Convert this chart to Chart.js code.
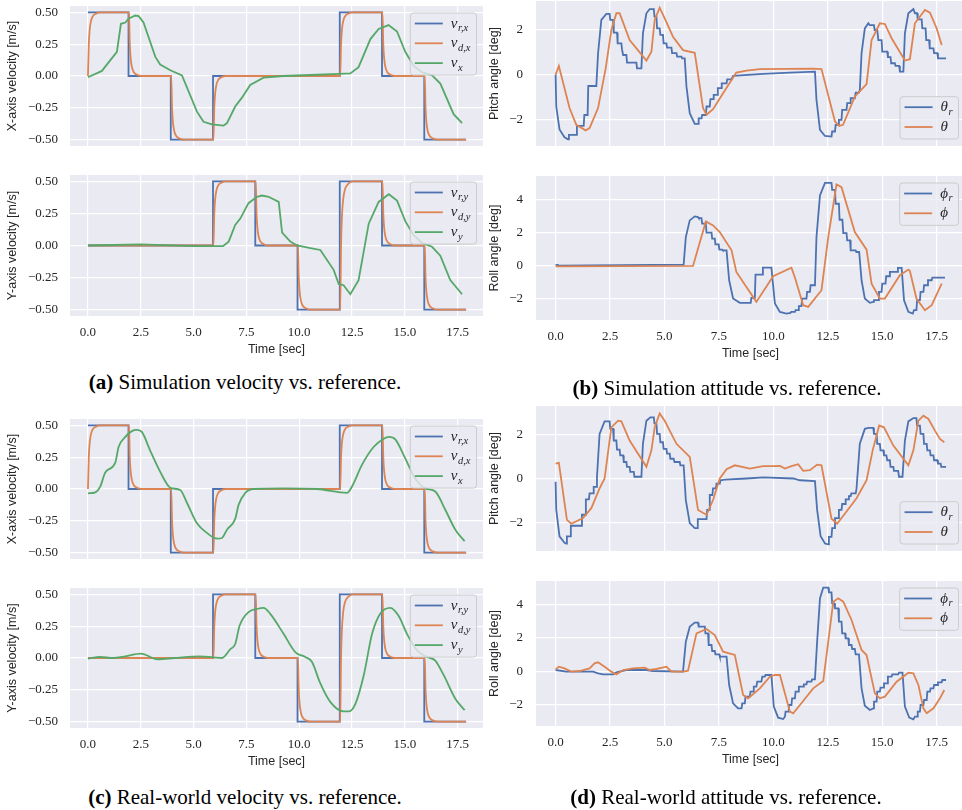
<!DOCTYPE html>
<html>
<head>
<meta charset="utf-8">
<script src="https://cdn.jsdelivr.net/npm/chart.js@4.4.1/dist/chart.umd.min.js"></script>
<style>
  html, body { margin: 0; padding: 0; background: #fff; overflow: hidden; }
  #page { position: relative; width: 962px; height: 810px; overflow: hidden; }
  canvas { position: absolute; }
  .cap { position: absolute; width: 440px; text-align: center; font-family: "Liberation Serif", "Times New Roman", serif; font-size: 21px; color: #000; line-height: 24px; white-space: nowrap; }
</style>
</head>
<body>
<div id="page">
  <canvas id="a1"></canvas>
  <canvas id="a2"></canvas>
  <canvas id="b1"></canvas>
  <canvas id="b2"></canvas>
  <canvas id="c1"></canvas>
  <canvas id="c2"></canvas>
  <canvas id="d1"></canvas>
  <canvas id="d2"></canvas>
  <div class="cap" style="left:25px; top:370px;"><b>(a)</b> Simulation velocity vs. reference.</div>
  <div class="cap" style="left:507px; top:376px;"><b>(b)</b> Simulation attitude vs. reference.</div>
  <div class="cap" style="left:25px; top:785px;"><b>(c)</b> Real-world velocity vs. reference.</div>
  <div class="cap" style="left:506px; top:785px;"><b>(d)</b> Real-world attitude vs. reference.</div>
</div>
<script>
// tick labels
const timeTicks = [0, 2.5, 5, 7.5, 10, 12.5, 15, 17.5];
const velTicks = [-0.5, -0.25, 0, 0.25, 0.5];
const pitchTicks = [-2, 0, 2];
const rollTicks = [-2, 0, 2, 4];

// reference velocity (step) and desired velocity, shared by sim and real runs  [t, v]
const refVx = [[0,0.5],[1.92,0.5],[1.92,0],[3.92,0],[3.92,-0.5],[5.92,-0.5],[5.92,0],[11.92,0],[11.92,0.5],[13.92,0.5],[13.92,0],[15.92,0],[15.92,-0.5],[17.9,-0.5]];
const desVx = [[0,0],[0.04,0.25],[0.08,0.36],[0.14,0.43],[0.23,0.47],[0.38,0.49],[0.58,0.5],
  [1.94,0.5],[1.98,0.25],[2.02,0.14],[2.08,0.07],[2.17,0.03],[2.32,0.01],[2.52,0],
  [3.94,0],[3.98,-0.25],[4.02,-0.36],[4.08,-0.43],[4.17,-0.47],[4.32,-0.49],[4.52,-0.5],
  [5.94,-0.5],[5.98,-0.25],[6.02,-0.14],[6.08,-0.07],[6.17,-0.03],[6.32,-0.01],[6.52,0],
  [11.94,0],[11.98,0.25],[12.02,0.36],[12.08,0.43],[12.17,0.47],[12.32,0.49],[12.52,0.5],
  [13.94,0.5],[13.98,0.25],[14.02,0.14],[14.08,0.07],[14.17,0.03],[14.32,0.01],[14.52,0],
  [15.94,0],[15.98,-0.25],[16.02,-0.36],[16.08,-0.43],[16.17,-0.47],[16.32,-0.49],[16.52,-0.5],[17.9,-0.5]];
const refVy = [[0,0],[5.92,0],[5.92,0.5],[7.92,0.5],[7.92,0],[9.92,0],[9.92,-0.5],[11.92,-0.5],[11.92,0.5],[13.92,0.5],[13.92,0],[15.92,0],[15.92,-0.5],[17.9,-0.5]];
const desVy = [[0,0],[5.94,0],[5.98,0.25],[6.02,0.36],[6.08,0.43],[6.17,0.47],[6.32,0.49],[6.52,0.5],
  [7.94,0.5],[7.98,0.25],[8.02,0.14],[8.08,0.07],[8.17,0.03],[8.32,0.01],[8.52,0],
  [9.94,0],[9.98,-0.25],[10.02,-0.36],[10.08,-0.43],[10.17,-0.47],[10.32,-0.49],[10.52,-0.5],
  [11.94,-0.5],[11.98,0],[12.02,0.22],[12.08,0.36],[12.17,0.44],[12.32,0.48],[12.52,0.5],
  [13.94,0.5],[13.98,0.25],[14.02,0.14],[14.08,0.07],[14.17,0.03],[14.32,0.01],[14.52,0],
  [15.94,0],[15.98,-0.25],[16.02,-0.36],[16.08,-0.43],[16.17,-0.47],[16.32,-0.49],[16.52,-0.5],[17.9,-0.5]];

// measured velocity
const simVx = [[0,-0.01],[0.66,0.04],[1.37,0.19],[1.56,0.41],[1.77,0.42],[1.92,0.45],[2.24,0.475],[2.4,0.47],[2.63,0.42],[3.19,0.15],[3.42,0.09],[3.9,0.045],[4.45,0.005],[5.16,-0.28],[5.47,-0.36],[5.87,-0.38],[6.42,-0.39],[6.58,-0.37],[6.97,-0.24],[7.29,-0.17],[7.68,-0.07],[8.31,-0.013],[9.26,0],[10.84,0.01],[11.87,0.016],[12.42,0.02],[12.81,0.07],[13.37,0.29],[13.76,0.37],[14.23,0.4],[14.63,0.35],[15.02,0.19],[15.42,0.08],[15.81,0.03],[16.29,0.005],[16.68,-0.06],[17.31,-0.3],[17.71,-0.37]];
const simVy = [[0,0],[2.5,0.008],[5,-0.005],[6.39,-0.005],[6.66,0.03],[6.97,0.16],[7.21,0.21],[7.6,0.33],[8.0,0.38],[8.24,0.39],[8.55,0.38],[9.03,0.34],[9.19,0.1],[9.58,0.03],[9.9,0],[10.53,-0.02],[11.0,-0.035],[11.63,-0.19],[11.87,-0.3],[12.1,-0.31],[12.42,-0.38],[12.81,-0.27],[13.29,0.17],[13.76,0.34],[14.24,0.4],[14.63,0.35],[15.02,0.19],[15.42,0.08],[15.81,0.02],[16.29,-0.01],[16.68,-0.08],[17.15,-0.27],[17.71,-0.38]];
const realVx = [[0,-0.034],[0.35,-0.026],[0.58,0.018],[0.82,0.13],[1.29,0.205],[1.45,0.33],[1.77,0.41],[2.08,0.455],[2.32,0.465],[2.56,0.447],[2.95,0.3],[3.42,0.135],[3.9,0.01],[4.37,-0.008],[4.69,-0.11],[5.16,-0.27],[5.63,-0.345],[6.11,-0.39],[6.34,-0.385],[6.58,-0.32],[6.97,-0.235],[7.13,-0.125],[7.45,-0.03],[7.84,0],[9.26,0.005],[10.84,0],[12.26,-0.03],[12.5,0.02],[12.97,0.19],[13.52,0.33],[14.0,0.395],[14.24,0.41],[14.55,0.39],[15.02,0.24],[15.5,0.08],[15.97,0.005],[16.44,-0.02],[16.92,-0.165],[17.39,-0.32],[17.83,-0.41]];
const realVy = [[0,-0.005],[0.58,0.008],[1.2,0],[1.77,0.013],[2.51,0.034],[3.3,-0.01],[4.1,0],[5.3,0.013],[5.94,0.005],[6.34,0],[6.74,0.07],[6.97,0.11],[7.18,0.255],[7.6,0.36],[8.0,0.385],[8.31,0.394],[8.63,0.347],[9.26,0.19],[9.81,0.047],[10.29,0.008],[10.6,-0.03],[11.0,-0.2],[11.47,-0.345],[12.1,-0.42],[12.34,-0.42],[12.66,-0.36],[13.05,-0.14],[13.45,0.19],[13.84,0.35],[14.31,0.394],[14.71,0.33],[15.1,0.19],[15.58,0.06],[16.05,0.008],[16.44,-0.02],[16.84,-0.135],[17.39,-0.32],[17.83,-0.41]];

// simulation attitude [t, deg]
const simPitchRef = [[0,0],[0.03,-1.43],[0.18,-2.46],[0.41,-2.81],[0.57,-2.9],[0.61,-2.7],[0.95,-2.7],[0.98,-2.3],[1.29,-2.3],[1.32,-1.81],[1.47,-1.81],[1.5,-0.51],[1.87,-0.51],[1.95,0.96],[2.1,2.45],[2.33,2.72],[2.48,2.72],[2.51,2.45],[2.64,2.45],[2.67,1.88],[2.82,1.88],[2.85,1.4],[3.02,1.4],[3.05,1.13],[3.1,0.88],[3.25,0.88],[3.28,0.54],[3.71,0.54],[3.74,0.28],[3.94,0.28],[4.01,1.85],[4.17,2.75],[4.32,2.94],[4.51,2.94],[4.54,2.6],[4.63,2.6],[4.66,2.07],[4.78,2.07],[4.81,1.78],[4.93,1.78],[4.96,1.4],[5.09,1.4],[5.12,1.21],[5.32,1.21],[5.35,0.96],[5.55,0.96],[5.58,0.81],[5.78,0.81],[5.81,0.73],[5.93,0.73],[6.01,-0.54],[6.16,-1.73],[6.39,-2.21],[6.54,-2.21],[6.57,-1.96],[6.7,-1.96],[6.73,-1.81],[6.9,-1.81],[6.93,-1.43],[7.08,-1.43],[7.11,-1.1],[7.23,-1.1],[7.26,-0.91],[7.42,-0.91],[7.45,-0.61],[7.6,-0.61],[7.63,-0.39],[7.85,-0.39],[7.88,-0.21],[8.08,-0.21],[8.15,-0.06],[9.53,0.03],[10.76,0.09],[11.91,0.13],[11.98,-1.13],[12.14,-2.48],[12.37,-2.75],[12.67,-2.78],[12.7,-2.55],[12.83,-2.55],[12.86,-2.25],[12.98,-2.25],[13.01,-2.03],[13.13,-2.03],[13.16,-1.58],[13.36,-1.58],[13.39,-1.28],[13.52,-1.28],[13.55,-1.06],[13.74,-1.06],[13.78,-0.81],[13.93,-0.81],[13.97,-0.69],[14.05,0.96],[14.2,2.07],[14.36,2.3],[14.43,2.22],[14.62,2.22],[14.65,2.0],[14.77,2.0],[14.82,1.55],[14.97,1.55],[15.0,1.03],[15.23,1.03],[15.26,0.78],[15.38,0.78],[15.41,0.51],[15.58,0.51],[15.61,0.39],[15.78,0.39],[15.81,0.13],[15.97,0.13],[16.04,1.85],[16.2,2.75],[16.43,2.94],[16.5,2.75],[16.6,2.75],[16.63,2.48],[16.81,2.48],[16.84,2.07],[16.99,2.07],[17.02,1.55],[17.15,1.55],[17.18,1.18],[17.35,1.18],[17.38,0.96],[17.53,0.96],[17.56,0.73],[17.93,0.73]];
const simPitch = [[0,0],[0.15,0.39],[0.64,-1.5],[0.95,-2.25],[1.38,-2.5],[1.56,-2.4],[1.95,-1.5],[2.3,0.28],[2.56,2.0],[2.79,2.75],[2.94,2.75],[3.4,1.55],[3.78,1.1],[4.17,0.63],[4.4,1.03],[4.55,2.45],[4.78,3.0],[5.01,2.52],[5.39,1.7],[5.85,1.1],[6.39,0.98],[6.77,-1.5],[6.93,-1.8],[7.23,-1.55],[7.69,-0.84],[8.3,0.09],[8.77,0.18],[9.38,0.25],[11.83,0.27],[12.21,0.25],[12.83,-2.1],[13.02,-2.3],[13.2,-2.25],[13.74,-0.99],[14.28,-0.43],[14.51,1.55],[14.89,2.3],[15.12,2.27],[15.43,1.63],[16.04,0.63],[16.27,0.69],[16.5,2.3],[16.96,2.9],[17.19,2.78],[17.5,2.07],[17.73,1.33]];
const simRollRef = [[0,0.05],[0.11,0.05],[0.13,0],[5.88,0.06],[5.98,1.72],[6.16,2.72],[6.39,2.96],[6.54,2.92],[6.57,2.86],[6.7,2.86],[6.73,2.52],[6.9,2.52],[6.93,1.98],[7.16,1.98],[7.19,1.62],[7.31,1.62],[7.34,1.28],[7.49,1.28],[7.52,0.96],[7.65,0.96],[7.68,0.92],[7.85,0.92],[7.97,-0.88],[8.15,-1.98],[8.46,-2.24],[8.96,-2.24],[8.99,-1.94],[9.15,-1.94],[9.18,-0.54],[9.49,-0.54],[9.52,-0.12],[9.91,-0.12],[10.07,-2.28],[10.3,-2.78],[10.6,-2.88],[10.79,-2.84],[10.82,-2.78],[10.99,-2.78],[11.02,-2.68],[11.14,-2.68],[11.17,-2.44],[11.29,-2.44],[11.32,-1.98],[11.52,-1.98],[11.55,-1.58],[11.68,-1.58],[11.71,-1.18],[11.91,-1.18],[11.98,1.72],[12.14,4.22],[12.37,4.98],[12.67,4.98],[12.7,4.56],[12.83,4.56],[12.86,3.72],[13.01,3.72],[13.04,2.76],[13.17,2.76],[13.21,1.96],[13.36,1.96],[13.39,1.52],[13.52,1.52],[13.55,0.92],[13.78,0.92],[13.81,0.82],[13.94,0.82],[14.05,-0.88],[14.2,-1.98],[14.43,-2.24],[14.59,-2.18],[14.62,-2.08],[14.82,-2.08],[14.85,-1.58],[14.97,-1.58],[15.0,-1.08],[15.15,-1.08],[15.18,-0.64],[15.32,-0.64],[15.35,-0.38],[15.69,-0.38],[15.72,-0.14],[15.89,-0.14],[16.0,-2.08],[16.2,-2.78],[16.4,-2.88],[16.46,-2.68],[16.57,-2.68],[16.6,-2.08],[16.73,-2.08],[16.76,-1.58],[16.89,-1.58],[16.92,-1.18],[17.07,-1.18],[17.1,-0.88],[17.27,-0.88],[17.3,-0.72],[17.88,-0.72]];
const simRoll = [[0,-0.04],[6.31,-0.02],[6.9,2.66],[7.23,2.42],[7.54,2.02],[8.08,0.92],[8.3,-0.38],[9.22,-2.18],[9.99,-0.64],[10.83,-0.12],[10.99,-0.72],[11.37,-2.38],[11.6,-2.48],[12.21,-1.48],[12.52,1.72],[12.9,4.88],[13.13,4.72],[13.74,2.02],[14.28,0.96],[14.51,-1.08],[14.89,-1.98],[15.12,-1.98],[15.81,-0.58],[16.2,-0.24],[16.27,-0.32],[16.57,-1.98],[16.96,-2.68],[17.27,-2.38],[17.73,-1.08]];

// real-world attitude [t, deg]
const realPitchRef = [[0,-0.15],[0.03,-1.43],[0.18,-2.63],[0.41,-2.93],[0.49,-2.96],[0.52,-2.63],[0.67,-2.63],[0.7,-2.15],[1.18,-2.15],[1.21,-1.65],[1.36,-1.65],[1.39,-0.95],[1.53,-0.95],[1.56,-0.68],[1.72,-0.68],[1.75,-0.38],[1.87,-0.38],[1.9,0.08],[2.02,2.03],[2.25,2.6],[2.48,2.6],[2.51,2.26],[2.64,2.26],[2.67,1.73],[2.79,1.73],[2.82,1.31],[2.94,1.31],[2.97,1.05],[3.1,1.05],[3.13,0.75],[3.25,0.75],[3.28,0.53],[3.4,0.53],[3.43,0.3],[3.59,0.3],[3.62,0.08],[3.94,0.08],[4.01,1.58],[4.17,2.63],[4.35,2.78],[4.51,2.78],[4.54,2.51],[4.63,2.51],[4.66,2.03],[4.78,2.03],[4.81,1.65],[4.93,1.65],[4.96,1.35],[5.09,1.35],[5.12,1.13],[5.24,1.13],[5.27,0.9],[5.42,0.9],[5.46,0.75],[5.7,0.75],[5.73,0.6],[5.88,0.6],[5.98,-0.98],[6.16,-2.03],[6.39,-2.26],[6.5,-2.26],[6.53,-1.85],[6.93,-1.85],[6.96,-1.43],[7.05,-1.43],[7.08,-0.75],[7.2,-0.75],[7.23,-0.45],[7.36,-0.45],[7.39,-0.23],[7.54,-0.23],[7.57,-0.08],[7.77,-0.05],[8.77,0],[9.53,0.05],[10.91,0],[11.22,-0.08],[11.91,-0.12],[12.01,-1.43],[12.17,-2.63],[12.37,-2.96],[12.52,-3.0],[12.55,-2.66],[12.67,-2.66],[12.7,-2.26],[12.79,-2.26],[12.83,-1.8],[12.98,-1.8],[13.01,-1.43],[13.13,-1.43],[13.16,-1.16],[13.29,-1.16],[13.32,-0.95],[13.44,-0.95],[13.47,-0.8],[13.55,-0.8],[13.58,-0.68],[13.78,-0.68],[13.82,-0.45],[13.97,1.58],[14.2,2.26],[14.36,2.3],[14.59,2.3],[14.62,2.03],[14.74,2.03],[14.77,1.58],[14.89,1.58],[14.92,1.28],[15.05,1.28],[15.08,1.05],[15.19,1.05],[15.23,0.83],[15.35,0.83],[15.38,0.53],[15.51,0.53],[15.54,0.35],[15.73,0.35],[15.77,0.08],[15.93,0.08],[16.04,1.73],[16.2,2.6],[16.43,2.75],[16.57,2.75],[16.6,2.41],[16.73,2.41],[16.76,2.03],[16.89,2.03],[16.92,1.58],[17.04,1.58],[17.07,1.28],[17.19,1.28],[17.22,1.05],[17.35,1.05],[17.38,0.83],[17.53,0.83],[17.56,0.68],[17.68,0.68],[17.71,0.53],[17.93,0.53]];
const realPitch = [[0,0.68],[0.15,0.71],[0.52,-1.88],[0.72,-2.06],[1.26,-1.8],[1.64,-1.35],[2.02,-0.45],[2.25,0],[2.56,2.33],[2.87,2.63],[3.02,2.6],[3.4,1.73],[4.17,0.53],[4.4,1.28],[4.55,2.33],[4.78,2.96],[5.01,2.63],[5.55,1.58],[6.16,0.98],[6.54,-1.43],[6.93,-1.65],[7.23,-0.98],[7.54,0],[7.85,0.42],[8.23,0.6],[8.92,0.45],[9.53,0.56],[9.99,0.56],[10.3,0.57],[10.53,0.45],[10.83,0.56],[11.14,0.65],[11.37,0.35],[11.68,0.38],[12.01,0.63],[12.21,0.6],[12.67,-1.83],[12.93,-2.06],[13.36,-1.5],[13.82,-0.9],[14.28,-0.08],[14.56,1.28],[14.86,2.41],[15.08,2.33],[15.51,1.5],[16.2,0.6],[16.43,1.28],[16.66,2.63],[16.89,2.86],[17.12,2.71],[17.42,2.18],[17.65,1.8],[17.85,1.65]];
const realRollRef = [[0,0.08],[0.49,-0.02],[1.72,-0.02],[1.95,-0.12],[2.18,-0.18],[2.64,-0.18],[2.79,-0.06],[3.25,0.08],[4.17,0.08],[4.47,0.02],[5.85,-0.02],[5.98,1.78],[6.16,2.68],[6.39,2.92],[6.54,2.92],[6.57,2.68],[6.85,2.68],[6.88,2.28],[7.0,2.28],[7.03,1.58],[7.16,1.58],[7.19,1.22],[7.31,1.22],[7.34,1.02],[7.51,1.02],[7.54,0.88],[7.85,0.88],[7.97,-0.82],[8.15,-1.92],[8.38,-2.22],[8.54,-2.22],[8.57,-1.92],[8.69,-1.92],[8.72,-1.52],[8.92,-1.52],[8.95,-1.22],[9.07,-1.22],[9.1,-0.92],[9.22,-0.92],[9.26,-0.62],[9.45,-0.62],[9.49,-0.32],[9.61,-0.32],[9.64,-0.22],[9.91,-0.22],[10.02,-2.12],[10.22,-2.78],[10.45,-2.86],[10.53,-2.72],[10.56,-2.42],[10.68,-2.42],[10.71,-2.02],[10.83,-2.02],[10.86,-1.62],[10.99,-1.62],[11.02,-1.22],[11.14,-1.22],[11.17,-0.92],[11.37,-0.92],[11.4,-0.78],[11.52,-0.78],[11.55,-0.62],[11.75,-0.62],[11.78,-0.48],[11.91,-0.48],[12.01,1.78],[12.14,4.38],[12.29,5.02],[12.52,5.02],[12.55,4.74],[12.67,4.74],[12.7,4.08],[12.79,4.08],[12.83,3.78],[12.98,3.78],[13.01,2.98],[13.13,2.98],[13.16,2.28],[13.29,2.28],[13.32,1.98],[13.44,1.98],[13.47,1.58],[13.59,1.58],[13.62,1.34],[13.74,1.34],[13.78,1.02],[13.93,1.02],[14.05,-1.02],[14.2,-2.06],[14.43,-2.32],[14.59,-2.22],[14.62,-1.82],[14.74,-1.82],[14.77,-1.22],[14.89,-1.22],[14.92,-0.98],[15.05,-0.98],[15.08,-0.72],[15.23,-0.72],[15.26,-0.32],[15.43,-0.32],[15.46,-0.18],[15.73,-0.18],[15.77,-0.08],[15.93,-0.08],[16.04,-2.12],[16.24,-2.78],[16.43,-2.88],[16.5,-2.72],[16.6,-2.72],[16.63,-2.42],[16.73,-2.42],[16.76,-2.02],[16.89,-2.02],[16.92,-1.72],[17.04,-1.72],[17.07,-1.22],[17.19,-1.22],[17.22,-1.02],[17.35,-1.02],[17.38,-0.82],[17.53,-0.82],[17.56,-0.66],[17.73,-0.66],[17.76,-0.52],[17.93,-0.52]];
const realRoll = [[0,0.12],[0.15,0.28],[0.41,0.18],[0.72,-0.02],[1.1,0.02],[1.56,0.18],[1.79,0.48],[1.95,0.54],[2.25,0.28],[2.56,-0.02],[2.79,-0.18],[3.1,0.08],[3.55,0.18],[4.09,0.22],[4.32,0.08],[4.63,0.14],[5.09,0.28],[5.32,-0.02],[5.85,-0.02],[6.08,0.04],[6.47,2.28],[6.93,2.54],[7.31,2.18],[7.69,1.18],[8.23,0.98],[8.61,-1.42],[8.84,-1.62],[9.38,-1.02],[9.84,-0.32],[10.07,-0.22],[10.3,-0.22],[10.76,-2.42],[10.91,-2.52],[11.22,-2.02],[11.83,-1.02],[12.29,-0.58],[12.52,1.78],[12.75,4.18],[12.98,4.38],[13.21,4.18],[13.59,3.08],[14.05,1.28],[14.28,0.98],[14.66,-1.32],[14.89,-1.62],[15.12,-1.52],[15.66,-0.62],[16.2,-0.08],[16.43,-0.12],[16.66,-0.82],[16.89,-2.22],[17.04,-2.52],[17.35,-2.22],[17.65,-1.62],[17.85,-1.12]];

const BLUE = '#4c72b0';
const ORANGE = '#dd8452';
const GREEN = '#55a868';
const TEXT = '#262626';
const SANS = '"Liberation Sans", Arial, sans-serif';
const SERIF = '"Liberation Serif", "DejaVu Serif", serif';

// plot background like seaborn darkgrid
const plotBg = {
  id: 'plotBg',
  beforeDraw(chart) {
    const { ctx, chartArea: a } = chart;
    ctx.save();
    ctx.fillStyle = '#eaeaf2';
    ctx.fillRect(a.left, a.top, a.right - a.left, a.bottom - a.top);
    ctx.restore();
  }
};

// legend drawn inside the axes, with math style labels
const mathLegend = {
  id: 'mathLegend',
  afterDatasetsDraw(chart, args, opts) {
    if (!opts.labels) return;
    const { ctx, chartArea: a } = chart;
    const baseFont = 'italic 15px ' + SERIF;
    const subFont = 'italic 10.5px ' + SERIF;
    let textW = 0;
    opts.labels.forEach(l => {
      ctx.font = baseFont;
      let w = ctx.measureText(l[0]).width;
      if (l[1]) { ctx.font = subFont; w += 0.5 + ctx.measureText(l[1]).width; }
      textW = Math.max(textW, w);
    });
    const n = opts.labels.length;
    const w = 4.5 + 28 + 8 + textW + 6;
    const h = 10.5 + (n - 1) * 19.8 + 12;
    const x0 = a.right - 6.5 - w;
    const y0 = opts.pos === 'lr' ? a.bottom - 7 - h : a.top + 7;
    ctx.save();
    ctx.beginPath();
    if (ctx.roundRect) ctx.roundRect(x0, y0, w, h, 3); else ctx.rect(x0, y0, w, h);
    ctx.fillStyle = 'rgba(234,234,242,0.8)';
    ctx.fill();
    ctx.strokeStyle = '#cccccc';
    ctx.lineWidth = 1;
    ctx.stroke();
    opts.labels.forEach((l, i) => {
      const y = y0 + 10.5 + i * 19.8;
      ctx.strokeStyle = chart.data.datasets[i].borderColor;
      ctx.lineWidth = 1.8;
      ctx.beginPath();
      ctx.moveTo(x0 + 4.5, y);
      ctx.lineTo(x0 + 32.5, y);
      ctx.stroke();
      ctx.fillStyle = TEXT;
      ctx.textBaseline = 'alphabetic';
      ctx.textAlign = 'left';
      ctx.font = baseFont;
      const tx = x0 + 40.5;
      ctx.fillText(l[0], tx, y + 4);
      if (l[1]) {
        const bw = ctx.measureText(l[0]).width;
        ctx.font = subFont;
        ctx.fillText(l[1], tx + bw + 0.5, y + 7.5);
      }
    });
    ctx.restore();
  }
};

function fmtTick(dec) {
  return v => (v < 0 ? '\u2212' : '') + Math.abs(v).toFixed(dec);
}

function toXY(arr) {
  return arr.map(p => ({ x: p[0], y: p[1] }));
}

function makeChart(p) {
  const canvas = document.getElementById(p.id);
  const pad = Math.min(4, p.top);
  const xh = p.showX ? 44 : 4;
  const height = p.bottom - p.top + pad + xh;
  canvas.width = p.width;
  canvas.height = height;
  canvas.style.left = p.left + 'px';
  canvas.style.top = (p.top - pad) + 'px';
  canvas.style.width = p.width + 'px';
  canvas.style.height = height + 'px';

  const datasets = p.series.map((s, i) => ({
    data: toXY(s.data),
    borderColor: s.color,
    borderWidth: 1.8,
    pointRadius: 0,
    fill: false,
    order: p.series.length - i,
    cubicInterpolationMode: s.smooth ? 'monotone' : 'default',
    tension: 0
  }));

  return new Chart(canvas.getContext('2d'), {
    type: 'line',
    data: { datasets },
    options: {
      responsive: false,
      animation: false,
      events: [],
      layout: { padding: { top: pad, left: 0, right: 0, bottom: 0 } },
      plugins: {
        legend: { display: false },
        tooltip: { enabled: false },
        mathLegend: p.legend
      },
      scales: {
        x: {
          type: 'linear',
          min: p.xMin,
          max: p.xMax,
          afterBuildTicks: s => { s.ticks = timeTicks.map(v => ({ value: v })); },
          afterFit: s => { s.height = xh; s.paddingLeft = 0; s.paddingRight = 0; s.paddingTop = 0; s.paddingBottom = 0; },
          grid: { color: '#ffffff', lineWidth: 1.2, drawTicks: false },
          border: { display: false },
          ticks: {
            display: p.showX,
            padding: 9,
            color: TEXT,
            font: { family: SERIF, size: 13 },
            autoSkip: false,
            maxRotation: 0,
            callback: fmtTick(1)
          },
          title: {
            display: p.showX,
            text: 'Time [sec]',
            color: TEXT,
            font: { family: SANS, size: 12.5 },
            padding: { top: 0, bottom: 2.5 }
          }
        },
        y: {
          min: p.yMin,
          max: p.yMax,
          afterBuildTicks: s => { s.ticks = p.yTicks.map(v => ({ value: v })); },
          afterFit: s => { s.width = p.axisW; s.paddingLeft = 0; s.paddingRight = 0; s.paddingTop = 0; s.paddingBottom = 0; },
          grid: { color: '#ffffff', lineWidth: 1.2, drawTicks: false },
          border: { display: false },
          ticks: {
            padding: p.tickPad,
            color: TEXT,
            font: { family: SERIF, size: 13 },
            autoSkip: false,
            callback: fmtTick(p.dec)
          },
          title: {
            display: true,
            text: p.yTitle,
            color: TEXT,
            font: { family: SANS, size: 12.5 },
            padding: { top: p.titlePad, bottom: 0 }
          }
        }
      }
    },
    plugins: [plotBg, mathLegend]
  });
}

const velLabelsX = [['v', 'r,x'], ['v', 'd,x'], ['v', 'x']];
const velLabelsY = [['v', 'r,y'], ['v', 'd,y'], ['v', 'y']];
const pitchLabels = [['\u03b8', 'r'], ['\u03b8', '']];
const rollLabels = [['\u03d5', 'r'], ['\u03d5', '']];

const leftCol = { left: 0, width: 483, axisW: 70, tickPad: 12, titlePad: 5.5, xMin: -0.85, xMax: 18.7, yMin: -0.55, yMax: 0.55, yTicks: velTicks, dec: 2 };
const rightCol = { left: 480, width: 485, axisW: 56, tickPad: 13, titlePad: 7.5, xMin: -0.9, xMax: 18.8, dec: 0 };

const panels = [
  Object.assign({}, leftCol, { id: 'a1', top: 6, bottom: 146, showX: false, yTitle: 'X-axis velocity [m/s]',
    series: [{ data: refVx, color: BLUE }, { data: desVx, color: ORANGE, smooth: true }, { data: simVx, color: GREEN }],
    legend: { pos: 'ur', labels: velLabelsX } }),
  Object.assign({}, leftCol, { id: 'a2', top: 175, bottom: 316, showX: true, yTitle: 'Y-axis velocity [m/s]',
    series: [{ data: refVy, color: BLUE }, { data: desVy, color: ORANGE, smooth: true }, { data: simVy, color: GREEN }],
    legend: { pos: 'ur', labels: velLabelsY } }),
  Object.assign({}, leftCol, { id: 'c1', top: 419, bottom: 559, showX: false, yTitle: 'X-axis velocity [m/s]',
    series: [{ data: refVx, color: BLUE }, { data: desVx, color: ORANGE, smooth: true }, { data: realVx, color: GREEN, smooth: true }],
    legend: { pos: 'ur', labels: velLabelsX } }),
  Object.assign({}, leftCol, { id: 'c2', top: 588, bottom: 728, showX: true, yTitle: 'Y-axis velocity [m/s]',
    series: [{ data: refVy, color: BLUE }, { data: desVy, color: ORANGE, smooth: true }, { data: realVy, color: GREEN, smooth: true }],
    legend: { pos: 'ur', labels: velLabelsY } }),
  Object.assign({}, rightCol, { id: 'b1', top: 1, bottom: 146, showX: false, yTitle: 'Pitch angle [deg]', yMin: -3.2, yMax: 3.3, yTicks: pitchTicks,
    series: [{ data: simPitchRef, color: BLUE }, { data: simPitch, color: ORANGE }],
    legend: { pos: 'lr', labels: pitchLabels } }),
  Object.assign({}, rightCol, { id: 'b2', top: 176, bottom: 320, showX: true, yTitle: 'Roll angle [deg]', yMin: -3.27, yMax: 5.39, yTicks: rollTicks,
    series: [{ data: simRollRef, color: BLUE }, { data: simRoll, color: ORANGE }],
    legend: { pos: 'ur', labels: rollLabels } }),
  Object.assign({}, rightCol, { id: 'd1', top: 406, bottom: 551, showX: false, yTitle: 'Pitch angle [deg]', yMin: -3.3, yMax: 3.3, yTicks: pitchTicks,
    series: [{ data: realPitchRef, color: BLUE }, { data: realPitch, color: ORANGE }],
    legend: { pos: 'lr', labels: pitchLabels } }),
  Object.assign({}, rightCol, { id: 'd2', top: 581, bottom: 726, showX: true, yTitle: 'Roll angle [deg]', yMin: -3.28, yMax: 5.42, yTicks: rollTicks,
    series: [{ data: realRollRef, color: BLUE }, { data: realRoll, color: ORANGE }],
    legend: { pos: 'ur', labels: rollLabels } })
];

panels.forEach(makeChart);
</script>
</body>
</html>
